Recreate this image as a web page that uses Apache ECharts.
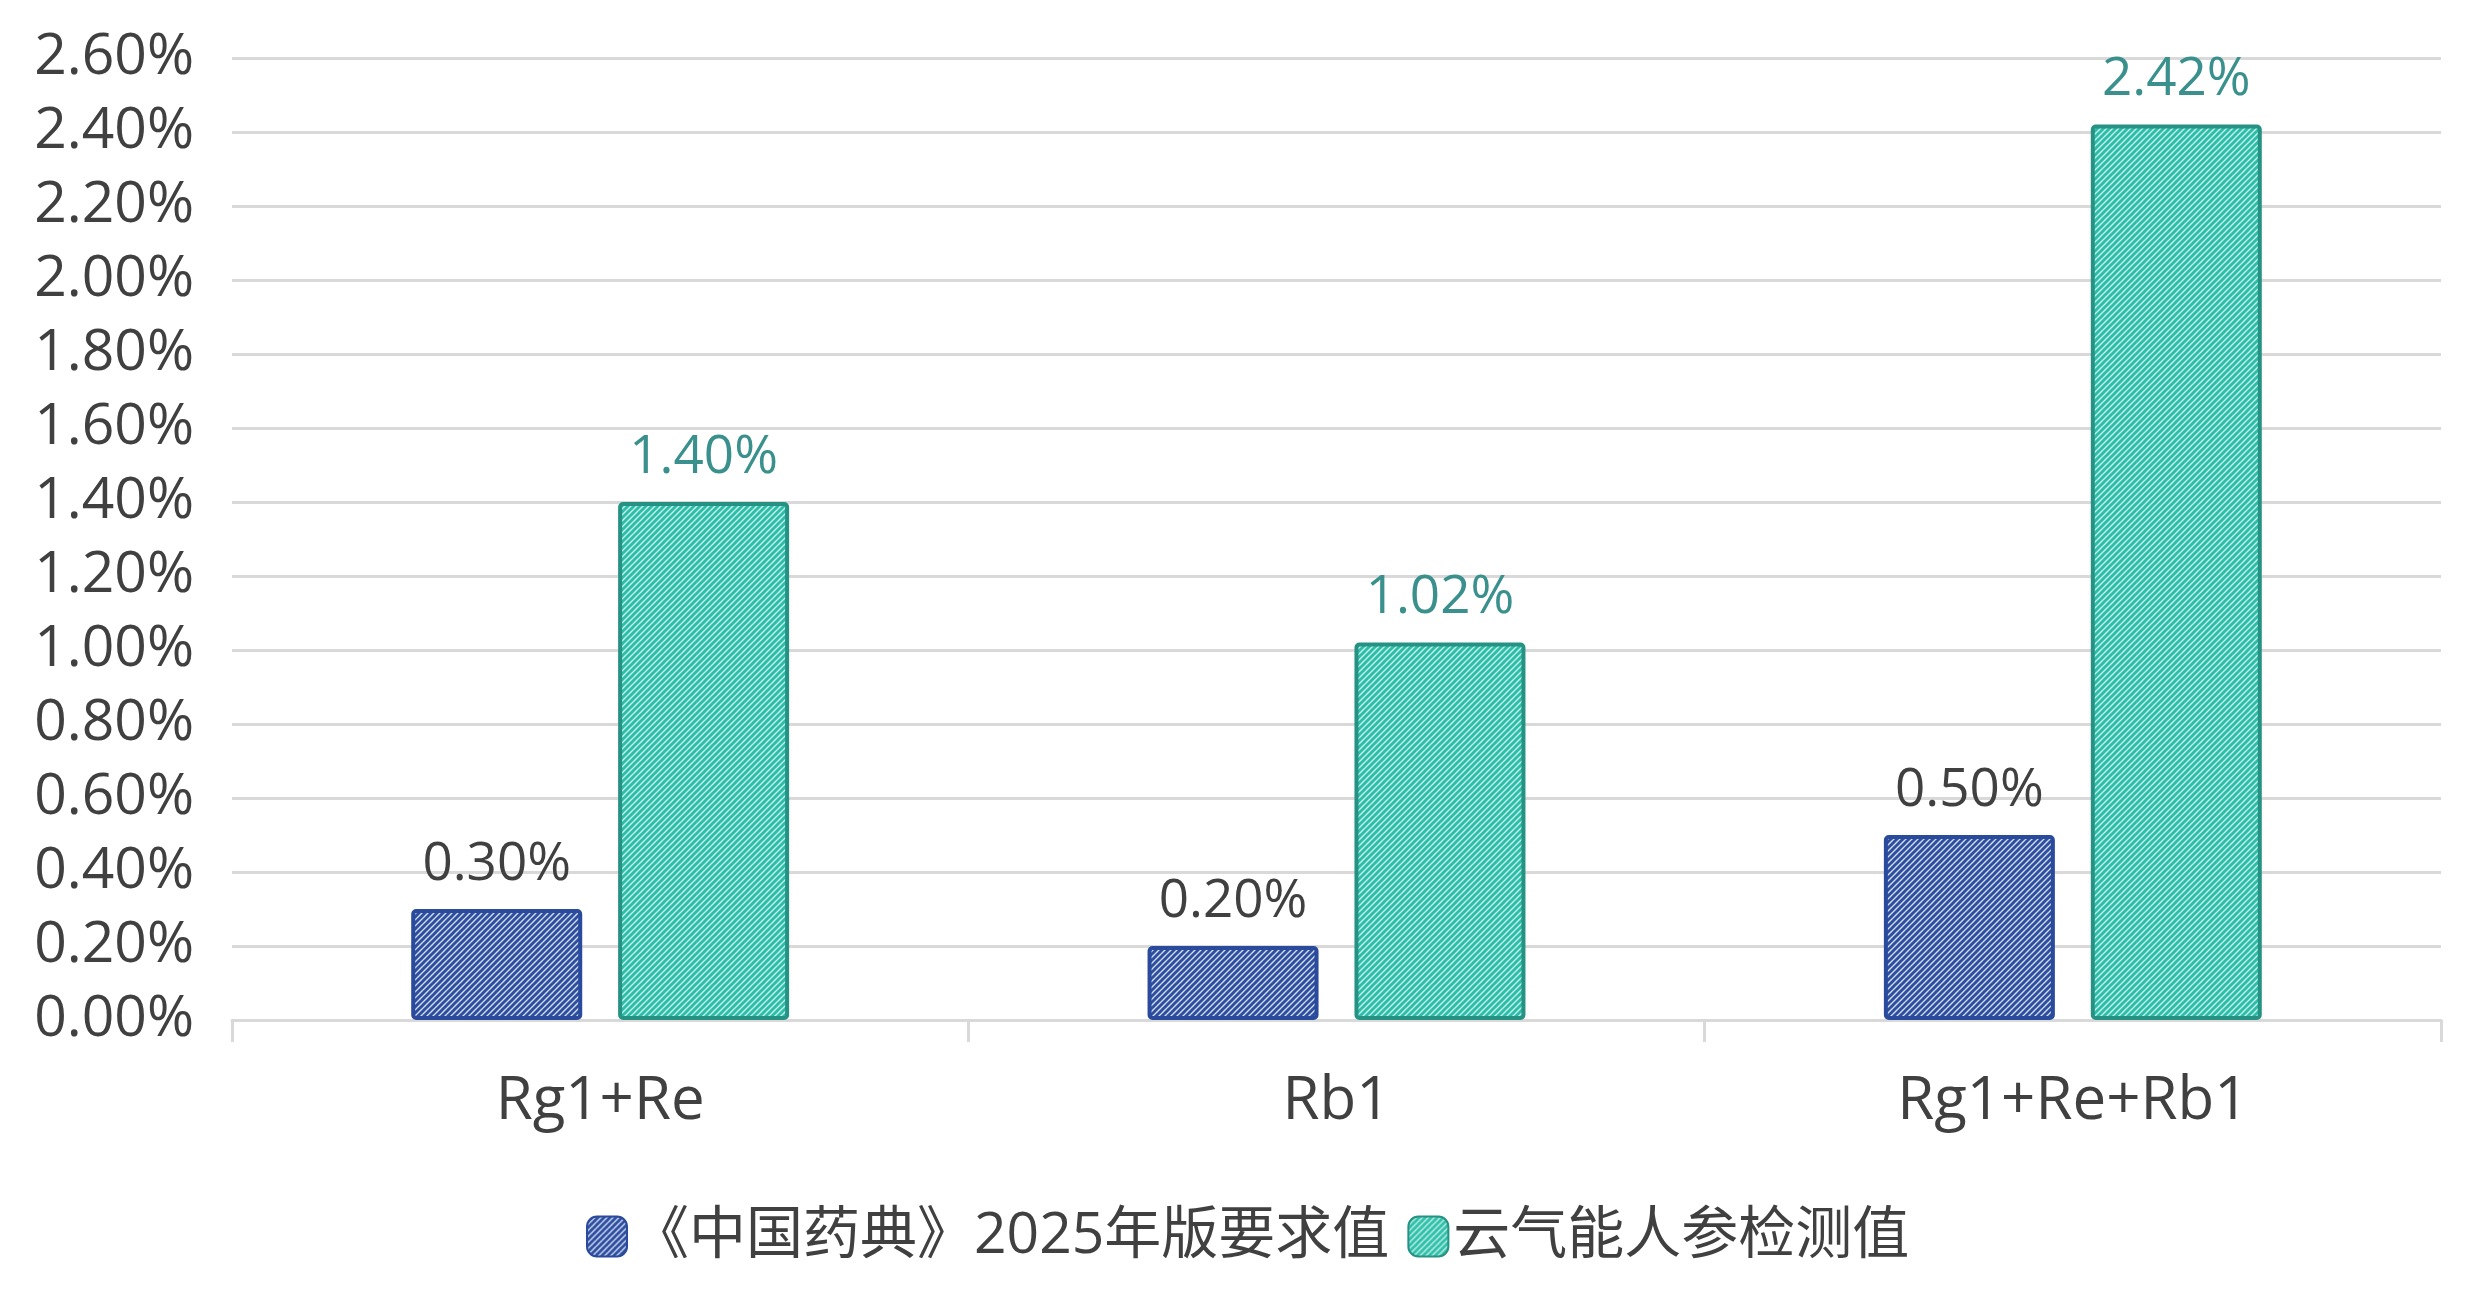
<!DOCTYPE html>
<html>
<head>
<meta charset="utf-8">
<script src="https://cdn.jsdelivr.net/npm/echarts@6/dist/echarts.min.js"></script>
<style>
html,body{margin:0;padding:0;background:#fff;}
#chart{width:2469px;height:1300px;}
</style>
</head>
<body>
<div id="chart"></div>
<script>
const categories = ['Rg1+Re', 'Rb1', 'Rg1+Re+Rb1'];
const seriesNames = ['《中国药典》2025年版要求值', '云气能人参检测值'];
const standardValues = [0.30, 0.20, 0.50];
const measuredValues = [1.40, 1.02, 2.42];
const yTicks = { min: 0, max: 2.6, interval: 0.2 };

function makePattern(dark, light) {
  const s = 6;
  const c = document.createElement('canvas');
  c.width = s; c.height = s;
  const g = c.getContext('2d');
  g.fillStyle = light;
  g.fillRect(0, 0, s, s);
  g.strokeStyle = dark;
  g.lineWidth = 3;
  g.lineCap = 'square';
  g.beginPath();
  g.moveTo(-1, s + 1); g.lineTo(s + 1, -1);
  g.moveTo(-1, 1); g.lineTo(1, -1);
  g.moveTo(s - 1, s + 1); g.lineTo(s + 1, s - 1);
  g.stroke();
  return { image: c, repeat: 'repeat' };
}

const FONT = '"Open Sans", "Noto Sans CJK SC", sans-serif';
const chart = echarts.init(document.getElementById('chart'));
chart.setOption({
  backgroundColor: '#ffffff',
  animation: false,
  grid: { left: 232, right: 28, top: 58, bottom: 280, containLabel: false },
  legend: {
    data: seriesNames,
    left: 581,
    top: 1203,
    itemWidth: 40,
    itemHeight: 40,
    itemGap: 18,
    textStyle: { fontFamily: FONT, fontSize: 57, color: '#404040' },
    icon: 'roundRect'
  },
  xAxis: {
    type: 'category',
    data: categories,
    axisLine: { lineStyle: { color: '#D9D9D9', width: 3 } },
    axisTick: { show: true, length: 22, lineStyle: { color: '#D9D9D9', width: 3 } },
    axisLabel: { fontFamily: FONT, fontSize: 60, color: '#404040', margin: 52 }
  },
  yAxis: {
    type: 'value',
    min: yTicks.min,
    max: yTicks.max,
    interval: yTicks.interval,
    axisLine: { show: false },
    axisTick: { show: false },
    splitLine: { lineStyle: { color: '#D9D9D9', width: 3 } },
    axisLabel: {
      fontFamily: FONT, fontSize: 57, color: '#404040', margin: 38,
      formatter: v => v.toFixed(2) + '%'
    }
  },
  series: [
    {
      name: seriesNames[0],
      type: 'bar',
      data: standardValues,
      barWidth: 171,
      barGap: '21%',
      itemStyle: {
        color: makePattern('#2E4FA0', '#D6E0F4'),
        borderColor: '#2A4A9C',
        borderWidth: 4,
        borderRadius: 3
      },
      label: {
        show: true, position: 'top', distance: 18,
        fontFamily: FONT, fontSize: 53, color: '#404040',
        formatter: p => p.value.toFixed(2) + '%'
      }
    },
    {
      name: seriesNames[1],
      type: 'bar',
      data: measuredValues,
      barWidth: 171,
      itemStyle: {
        color: makePattern('#2BBFA9', '#CFF3EC'),
        borderColor: '#259284',
        borderWidth: 4,
        borderRadius: 3
      },
      label: {
        show: true, position: 'top', distance: 18,
        fontFamily: FONT, fontSize: 53, color: '#3A908C',
        formatter: p => p.value.toFixed(2) + '%'
      }
    }
  ]
});
</script>
</body>
</html>
